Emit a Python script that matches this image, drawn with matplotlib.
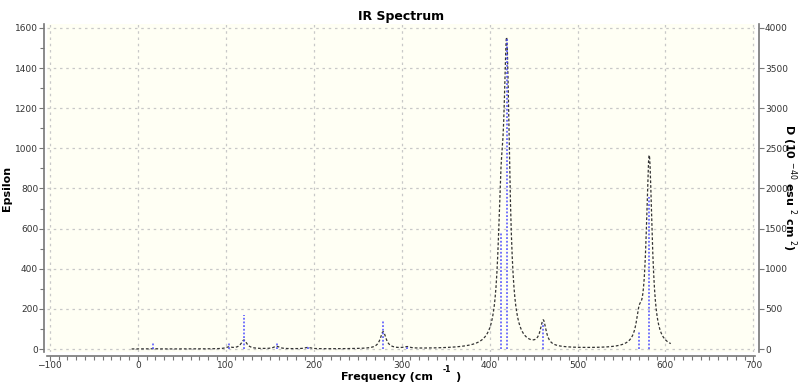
import numpy as np
import matplotlib
matplotlib.use("Agg")
import matplotlib.pyplot as plt
from matplotlib.ticker import MultipleLocator

# Modos vibracionais (cm-1) e forca de dipolo D (10^-40 esu^2 cm^2)
freqs = [17.4, 103.6, 120.7, 157.8, 193.0, 279.0, 306.0, 413.0, 419.5, 461.0, 570.0, 581.5]
dip = [91, 91, 420, 91, 40, 350, 30, 1458, 3875, 320, 228, 1894]

# Alargamento lorentziano (meia largura a meia altura) e fator de escala para epsilon
hwhm = 4.0
eps_scale = 8.65e-4
faixa_curva = (-7, 606)

x = np.arange(faixa_curva[0], faixa_curva[1] + 0.25, 0.25)
eps = np.zeros_like(x)
for f, d in zip(freqs, dip):
    eps += eps_scale * f * d / (1 + ((x - f) / hwhm) ** 2)

fig = plt.figure(figsize=(8, 3.86), dpi=100)
ax = fig.add_axes([0.059, 0.088, 0.885, 0.85])
ax.set_facecolor('#fffff4')
ax2 = ax.twinx()

ax.set_xlim(-103, 702)
ax.set_ylim(-15, 1620)
ax2.set_ylim(-15 * 2.5, 1620 * 2.5)

# Grade pontilhada
ax.grid(True, color='#c8c8c8', linestyle=(0, (2, 3)), linewidth=0.9)
ax.set_axisbelow(True)

# Espectro (epsilon) e barras (D)
ax2.vlines(freqs, 0, dip, colors='#4d4dff', linestyles=(0, (1.2, 1.2)), linewidth=1.1)
ax.plot(x, eps, color='#333333', linestyle=(0, (2.2, 1.6)), linewidth=0.9, zorder=3)

ax.xaxis.set_major_locator(MultipleLocator(100))
ax.xaxis.set_minor_locator(MultipleLocator(10))
ax.yaxis.set_major_locator(MultipleLocator(200))
ax.yaxis.set_minor_locator(MultipleLocator(100))
ax2.yaxis.set_major_locator(MultipleLocator(500))

for a in (ax, ax2):
    a.spines['top'].set_visible(False)
ax.spines['right'].set_visible(False)
ax2.spines['left'].set_visible(False)
ax2.spines['bottom'].set_visible(False)
for nome, a in (('left', ax), ('bottom', ax), ('right', ax2)):
    a.spines[nome].set_position(('outward', 2.5))
    a.spines[nome].set_color('#777777')
    a.spines[nome].set_linewidth(1.2)

ax.tick_params(axis='both', which='major', length=3.5, width=0.8, color='#777777',
               labelsize=6.5, labelcolor='#333333', pad=0.5)
ax.tick_params(axis='both', which='minor', length=3, width=0.8, color='#777777')
ax2.tick_params(axis='y', which='major', length=3.5, width=0.8, color='#777777',
                labelsize=6.5, labelcolor='#333333', pad=1)

ax.set_title('IR Spectrum', fontsize=9, fontweight='bold', pad=3)
# expoente desenhado a parte, como no original
ax.set_xlabel('Frequency (cm      )', fontsize=8, fontweight='bold')
ax.xaxis.set_label_coords(0.5, -0.062)
fig.text(0.559, 0.044, '-1', fontsize=5.5, fontweight='bold', ha='center', va='center')
ax.set_ylabel('Epsilon', fontsize=8, fontweight='bold', labelpad=2)
ax2.set_ylabel('D (10 $^{-40}$ esu $^{2}$ cm $^{2}$)', fontsize=8, fontweight='bold',
               rotation=-90, labelpad=8)

plt.savefig('out.png', dpi=100)
plt.close()
